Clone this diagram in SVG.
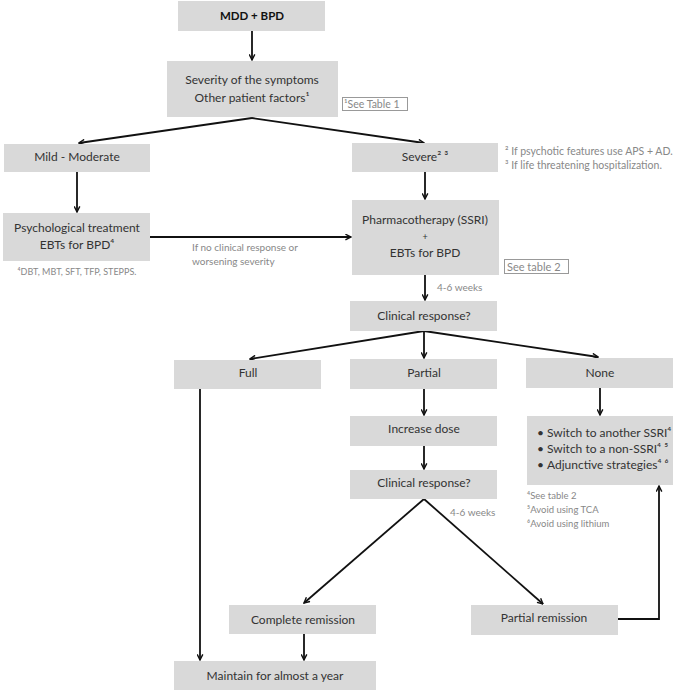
<svg xmlns="http://www.w3.org/2000/svg" width="676" height="696" viewBox="0 0 676 696">
<style>
.box{fill:#d9d9d9}
.t{font-family:Lato,"Liberation Sans",sans-serif;font-size:12px;fill:#333;text-anchor:middle}
.b{font-weight:bold;fill:#111;font-size:11.5px}
.n{font-family:Lato,"Liberation Sans",sans-serif;font-size:9.5px;fill:#888}
.tag{fill:#fff;stroke:#999;stroke-width:1}
.c line,.c path{stroke:#111;stroke-width:1.8;fill:none}
</style>
<defs>
<marker id="a" viewBox="0 0 10 10" refX="9" refY="5" markerWidth="7" markerHeight="7" markerUnits="userSpaceOnUse" orient="auto">
<path d="M1,1 L9,5 L1,9" fill="none" stroke="#111" stroke-width="2"/>
</marker>
</defs>
<rect width="676" height="696" fill="#fff"/>
<g class="c">
<line x1="252" y1="31" x2="252" y2="60" marker-end="url(#a)"/>
<line x1="252" y1="118" x2="79" y2="143" marker-end="url(#a)"/>
<line x1="252" y1="118" x2="424" y2="143" marker-end="url(#a)"/>
<line x1="77" y1="172" x2="77" y2="212" marker-end="url(#a)"/>
<line x1="425" y1="172" x2="425" y2="199" marker-end="url(#a)"/>
<line x1="150" y1="237" x2="351" y2="237" marker-end="url(#a)"/>
<line x1="425" y1="275" x2="425" y2="300" marker-end="url(#a)"/>
<line x1="424" y1="331" x2="250" y2="359" marker-end="url(#a)"/>
<line x1="424" y1="331" x2="424" y2="358" marker-end="url(#a)"/>
<line x1="424" y1="331" x2="598" y2="357" marker-end="url(#a)"/>
<line x1="200" y1="389" x2="200" y2="660" marker-end="url(#a)"/>
<line x1="424" y1="389" x2="424" y2="415" marker-end="url(#a)"/>
<line x1="600" y1="388" x2="600" y2="415" marker-end="url(#a)"/>
<line x1="424" y1="446" x2="424" y2="469" marker-end="url(#a)"/>
<line x1="424" y1="499" x2="304" y2="603" marker-end="url(#a)"/>
<line x1="424" y1="499" x2="543" y2="604" marker-end="url(#a)"/>
<line x1="304" y1="634" x2="304" y2="660" marker-end="url(#a)"/>
<path d="M618,619 H659 V486" marker-end="url(#a)"/>
</g>
<g id="mdd"><rect class="box" x="178" y="1" width="147" height="30"/><text class="t b" x="252" y="20">MDD + BPD</text></g>
<g id="severity"><rect class="box" x="167" y="61" width="171" height="56"/><text class="t" x="252" y="84">Severity of the symptoms</text><text class="t" x="252" y="102">Other patient factors¹</text></g>
<g id="tab1"><rect class="tag" x="342.5" y="97.5" width="65" height="13"/><text class="n" x="344" y="107.5" style="font-size:10.5px">¹See Table 1</text></g>
<g id="mild"><rect class="box" x="4" y="144" width="146" height="28"/><text class="t" x="77" y="161">Mild - Moderate</text></g>
<g id="psych"><rect class="box" x="3" y="213" width="147" height="48"/><text class="t" x="77" y="232">Psychological treatment</text><text class="t" x="77" y="249">EBTs for BPD⁴</text></g>
<g id="n4"><text class="n" x="77" y="275" text-anchor="middle" style="font-size:9px">⁴DBT, MBT, SFT, TFP, STEPPS.</text></g>
<g id="lbl1"><text class="n" x="192" y="251" style="font-size:10px">If no clinical response or</text><text class="n" x="192" y="265" style="font-size:10px">worsening severity</text></g>
<g id="severe"><rect class="box" x="352" y="143" width="146" height="29"/><text class="t" x="425" y="161">Severe² ³</text></g>
<g id="n23"><text class="n" x="505" y="155" style="font-size:10.5px">² If psychotic features use APS + AD.</text><text class="n" x="505" y="169" style="font-size:10.5px">³ If life threatening hospitalization.</text></g>
<g id="pharma"><rect class="box" x="352" y="200" width="147" height="75"/><text class="t" x="425" y="224">Pharmacotherapy (SSRI)</text><text class="t" x="425" y="240" style="font-size:9px">+</text><text class="t" x="425" y="257">EBTs for BPD</text></g>
<g id="tab2"><rect class="tag" x="504.5" y="259.5" width="64" height="14"/><text class="n" x="507" y="270.5" style="font-size:11px">See table 2</text></g>
<g id="w1"><text class="n" x="437" y="291" style="font-size:10px">4-6 weeks</text></g>
<g id="cr1"><rect class="box" x="350" y="301" width="147" height="30"/><text class="t" x="424" y="320">Clinical response?</text></g>
<g id="full"><rect class="box" x="174" y="360" width="147" height="29"/><text class="t" x="248" y="377">Full</text></g>
<g id="partial"><rect class="box" x="350" y="359" width="147" height="30"/><text class="t" x="424" y="377">Partial</text></g>
<g id="none"><rect class="box" x="526" y="358" width="147" height="30"/><text class="t" x="600" y="377">None</text></g>
<g id="inc"><rect class="box" x="350" y="416" width="147" height="30"/><text class="t" x="424" y="433">Increase dose</text></g>
<g id="switch"><rect class="box" x="527" y="416" width="146" height="69"/>
<text class="t" x="537" y="437" style="text-anchor:start">•</text><text class="t" x="547" y="437" style="text-anchor:start">Switch to another SSRI⁴</text>
<text class="t" x="537" y="453" style="text-anchor:start">•</text><text class="t" x="547" y="453" style="text-anchor:start">Switch to a non-SSRI⁴ ⁵</text>
<text class="t" x="537" y="469" style="text-anchor:start">•</text><text class="t" x="547" y="469" style="text-anchor:start">Adjunctive strategies⁴ ⁶</text></g>
<g id="n456"><text class="n" x="527" y="499">⁴See table 2</text><text class="n" x="527" y="513">⁵Avoid using TCA</text><text class="n" x="527" y="527">⁶Avoid using lithium</text></g>
<g id="cr2"><rect class="box" x="350" y="470" width="147" height="29"/><text class="t" x="424" y="487">Clinical response?</text></g>
<g id="w2"><text class="n" x="450" y="516" style="font-size:10px">4-6 weeks</text></g>
<g id="complete"><rect class="box" x="229" y="605" width="147" height="29"/><text class="t" x="303" y="624">Complete remission</text></g>
<g id="prem"><rect class="box" x="471" y="605" width="147" height="30"/><text class="t" x="544" y="622">Partial remission</text></g>
<g id="maintain"><rect class="box" x="174" y="661" width="202" height="29"/><text class="t" x="275" y="680">Maintain for almost a year</text></g>
</svg>
